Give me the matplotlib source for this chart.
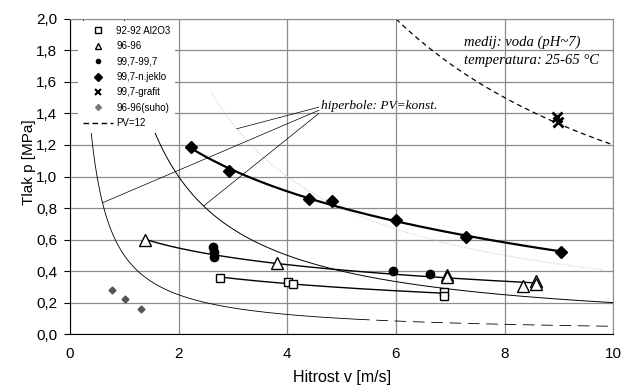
import numpy as np
import matplotlib
matplotlib.use("Agg")
import matplotlib.pyplot as plt
from matplotlib.lines import Line2D

plt.rcParams['font.family'] = ['Liberation Sans', 'DejaVu Sans']

# ---- data ----
al2o3_x = [2.76, 4.01, 4.10, 6.88, 6.88]
al2o3_y = [0.356, 0.33, 0.32, 0.27, 0.245]

t96_x = [1.38, 3.81, 6.93, 6.93, 8.34, 8.58, 8.58]
t96_y = [0.60, 0.45, 0.375, 0.36, 0.305, 0.335, 0.32]

c997_x = [2.63, 2.66, 2.65, 5.95, 6.62]
c997_y = [0.55, 0.52, 0.49, 0.40, 0.38]

jek_x = [2.22, 2.93, 4.40, 4.82, 6.00, 7.28, 9.03]
jek_y = [1.185, 1.035, 0.855, 0.845, 0.725, 0.615, 0.52]

graf_x = [8.96, 8.98]
graf_y = [1.375, 1.345]

suho_x = [0.77, 1.02, 1.31]
suho_y = [0.28, 0.22, 0.16]

pv_dashed = 12.0
pv_consts = [0.5, 2.0, 4.0]

x_ticks = [0, 2, 4, 6, 8, 10]
y_ticks = [0.0, 0.2, 0.4, 0.6, 0.8, 1.0, 1.2, 1.4, 1.6, 1.8, 2.0]

fig = plt.figure(figsize=(6.24, 3.85), dpi=100)
ax = fig.add_axes([0.112, 0.132, 0.871, 0.819])
ax.set_xlim(0, 10)
ax.set_ylim(0, 2.0)

ax.set_xticks(x_ticks)
ax.set_yticks(y_ticks)
ax.set_xticklabels([str(v) for v in x_ticks])
ax.set_yticklabels([f"{v:.1f}".replace('.', ',') for v in y_ticks])
ax.grid(True, color='#8c8c8c', linewidth=0.9)
ax.set_axisbelow(True)
for s in ['top', 'right']:
    ax.spines[s].set_color('#8c8c8c')
ax.tick_params(axis='x', length=0, pad=9, labelsize=11)
ax.tick_params(axis='y', length=4, direction='out', labelsize=11, pad=5)

# hyperbolas
xx = np.linspace(0.25, 5.3, 300)
ax.plot(xx, pv_consts[0] / xx, color='black', lw=0.6)
xx = np.linspace(5.3, 10, 200)
ax.plot(xx, pv_consts[0] / xx, color='black', lw=0.6, dashes=(14, 8))
xx = np.linspace(1.0, 10, 300)
ax.plot(xx, pv_consts[1] / xx, color='black', lw=0.7)
xx = np.linspace(2.6, 9.8, 300)
ax.plot(xx, pv_consts[2] / xx, color='#c8c8c8', lw=0.8, ls=':')
xx = np.linspace(6.0, 10, 200)
ax.plot(xx, pv_dashed / xx, color='black', lw=0.9, dashes=(4, 3))

# trend lines (logarithmic fits)
def log_fit(xs, ys, lw):
    b, a = np.polyfit(np.log(xs), ys, 1)
    xx = np.linspace(min(xs), max(xs), 200)
    ax.plot(xx, a + b * np.log(xx), color='black', lw=lw)

log_fit(al2o3_x, al2o3_y, 1.0)
log_fit(t96_x, t96_y, 1.0)
log_fit(jek_x, jek_y, 1.6)

# markers
ax.plot(al2o3_x, al2o3_y, ls='none', marker='s', ms=6, mfc='white', mec='black', mew=1.0)
ax.plot(t96_x, t96_y, ls='none', marker='^', ms=8, mfc='white', mec='black', mew=1.0)
ax.plot(c997_x, c997_y, ls='none', marker='o', ms=6, color='black')
ax.plot(jek_x, jek_y, ls='none', marker='D', ms=6.5, color='black')
ax.plot(graf_x, graf_y, ls='none', marker='x', ms=7, color='black', mew=2)
ax.plot(suho_x, suho_y, ls='none', marker='D', ms=3.5, color='#555555')

# annotations
ax.text(4.62, 1.445, 'hiperbole: PV=konst.', family=['Liberation Serif'], style='italic',
        fontsize=9.6, va='center', ha='left')
for (tx, ty), (sx, sy) in [((3.07, 4.0 / 3.07), (4.58, 1.44)),
                           ((0.6, 0.5 / 0.6), (4.58, 1.42)),
                           ((2.46, 2.0 / 2.46), (4.58, 1.40))]:
    ax.plot([sx, tx], [sy, ty], color='black', lw=0.5)

ax.text(7.26, 1.854, 'medij: voda (pH~7)', family=['Liberation Serif'], style='italic',
        fontsize=10.5, va='center', ha='left')
ax.text(7.26, 1.733, 'temperatura: 25-65 °C', family=['Liberation Serif'], style='italic',
        fontsize=10.5, va='center', ha='left')

ax.set_xlabel('Hitrost v [m/s]', fontsize=11.5)
ax.set_ylabel('Tlak p [MPa]', fontsize=11)
ax.xaxis.set_label_coords(0.5, -0.115)
ax.yaxis.set_label_coords(-0.062, 0.546)

handles = [
    Line2D([], [], ls='none', marker='s', ms=4, mfc='white', mec='black', mew=1.0),
    Line2D([], [], ls='none', marker='^', ms=5, mfc='white', mec='black', mew=1.0),
    Line2D([], [], ls='none', marker='o', ms=3, color='black'),
    Line2D([], [], ls='none', marker='D', ms=4, color='black'),
    Line2D([], [], ls='none', marker='x', ms=4, color='black', mew=1.5),
    Line2D([], [], ls='none', marker='D', ms=3, color='#777777'),
    Line2D([], [], color='black', lw=1.0, dashes=(4, 2.5)),
]
labels = ['92-92 Al2O3', '96-96', '99,7-99,7', '99,7-n.jeklo', '99,7-grafit',
          '96-96(suho)', 'PV=12']
leg = ax.legend(handles, labels, loc='upper left', bbox_to_anchor=(0.012, 1.0),
                borderaxespad=0.2, fontsize=7, frameon=True, fancybox=False,
                edgecolor='none', facecolor='white', framealpha=1.0,
                handlelength=3.1, handletextpad=0.3, labelspacing=0.56,
                borderpad=0.5)
leg.set_zorder(5)

fig.savefig('out.png', dpi=100)
